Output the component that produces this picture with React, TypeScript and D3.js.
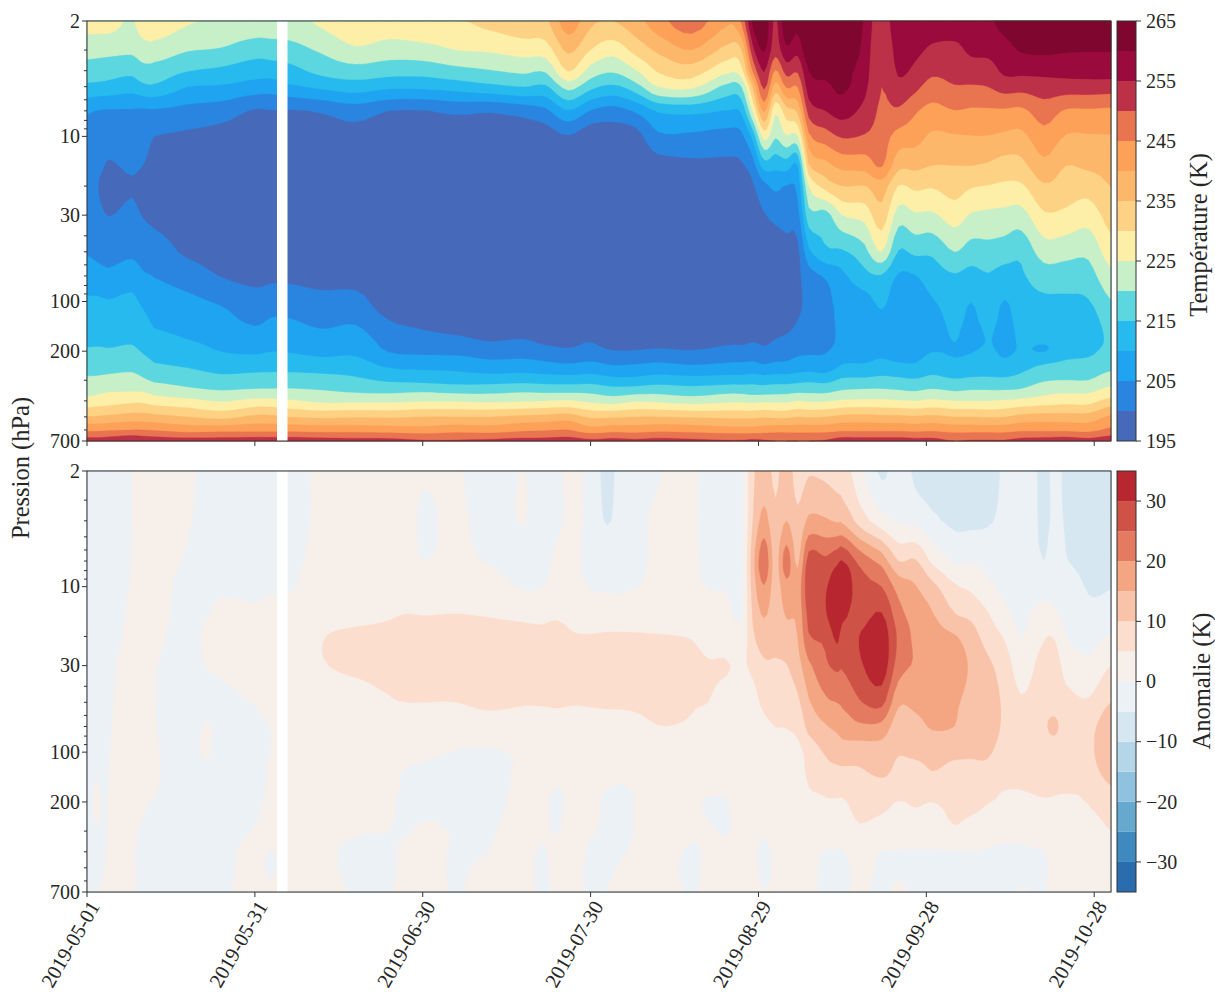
import React from "react";
import * as d3 from "d3";

const tempDays = [0,2,4,8,10,12,18,24,30,33,36,42,48,54,60,66,72,78,82,86,90,94,98,102,108,115,117,119,121,123,125,127,129,132,135,139,142,145,148,151,155,158,161,164,167,171,175,179,183];
const tempPressures = [2,3,4,5,7,10,15,20,30,50,70,100,130,170,200,250,300,350,400,500,600,700];
const tempProfiles = [
[227,222,217.7,213.7,205.6,202.5,201.5,201,201.5,204.5,207.6,210.6,212.4,214.2,215.5,218.2,220.8,223.6,226.8,235.2,243.9,252],
[227,221.7,217.5,213.4,204.8,202,200.7,200,200.8,203.7,206.7,210.7,212.3,214.2,215.6,218.2,221,224,227.5,235.5,244,252],
[227,221.5,217,213,204.5,201.5,199.7,199,199.9,203.3,206,210.3,212.1,214,215.5,218.4,221.5,224.7,228,236,244.5,252.5],
[224.5,221,216.4,211.9,204.5,202,200.6,199.7,201,204,207.4,211.2,212.9,214.4,215.9,218.9,221.7,224.8,229,237,245,254],
[228,222.7,218.3,213.6,204.2,201.5,200,199,199.8,203,205.6,209,211.3,213.3,214.6,217.6,220.7,224.6,229,237,245,253],
[228.5,223,218,214,204.3,200,199,198.5,199,202.1,204.8,207.3,209.1,211.4,213.2,215.8,219.2,223.3,227.7,236.4,244.5,252.5],
[225.5,220.3,215.2,210,203.3,199.2,198,198,198,199.2,202.7,206.1,208,210,212,214.8,218,221.4,226.5,235,243,252],
[224.5,219.5,214,209.4,202.2,198.5,198,198,198,198,199.8,204.3,206.6,208.6,209.9,213.2,216.6,220.3,224.6,233.5,243.4,252],
[223.4,217.2,212.3,207.7,199.6,198,197,197,197,197,198.6,201.8,204.1,207.2,209.3,213.3,217.3,220.9,226.5,236,243.5,252.5],
[223.4,217.5,212.5,207.3,199.8,198,197,197,197,197,199,202.6,205.4,207.7,209.9,213.6,217.3,221,226.5,236,243.5,252.5],
[223.4,218,213.4,209,199.6,198,197,197,197,197,199,202.5,205.3,208,209.7,213.5,217.3,221,225.7,235,243.5,252.5],
[226,220.8,216.5,211,200.5,198,197,197,197,197,198,201.6,203.6,206.7,208.6,212.9,217,220.3,224,234,243,252],
[229,224.2,218,212.3,202.5,198,197,197,197,197,197.8,201.8,204.3,207.2,209,212.5,215.9,219.4,224,234.6,243,251.5],
[228,222.7,217,211,200,197,197,197,197,197,197,197,200,202.9,204.7,209.7,214.3,219,224,234.3,242.5,251.5],
[229.5,223.2,217,211,199.8,197,197,197,197,197,197,197,198.5,201.7,204,209,213.6,219.5,224.5,235,242,250.5],
[229.5,225,218.5,212,201,197,197,197,197,197,197,197,196.5,201,203.8,208.7,212.8,218.7,224.5,235,243,250.5],
[231.5,225.6,219.7,213.5,200.5,197,197,197,197,197,197,197,197,199.5,202.7,207.3,212.8,218.7,224,235,242.5,251],
[233.5,227.2,221,215,202,197,197,197,197,197,197,197,197,200.1,203,207.6,213.3,219.4,224.5,236,244,251.5],
[234,227.7,220.7,214.2,204,197.5,197,197,197,197,197,197,197,198.5,202,206.8,212.8,219,225,236.5,244.5,251.5],
[243,236,230.3,221.7,209.7,199.6,197,197,197,197,197,197,197,198,201,206.3,212.5,219,225.5,237.2,245,252],
[236,230,223,216.3,204.7,197,197,197,197,197,197,197,197,199.5,202.1,206.9,212.9,218.8,224,234.2,242,251],
[235,227,220.7,214,203,197.5,197,197,197,197,197,197,197,196.5,200.3,205.7,211.5,217.5,223,234.3,243,251.5],
[238,231.7,224.6,217.7,205.6,198,197,197,197,197,197,197,197,197,200.3,206,211.5,218,224.4,235,242.7,251],
[243,236,230.5,225,210.5,204,198,197,197,197,197,197,197,197.5,201,206.7,212.5,218.5,224,235,243.5,251.5],
[248,240,232.7,226,211.4,204,199,197,197,197,197,197,197,197,200.3,205.8,212,217.5,223,234.5,243,251],
[240.5,233,225.8,218,209.7,203,199,197,197,197,197,197,197,198.5,202,206.4,212.5,218.7,224,234,242,250.5],
[246,235,228.7,220,211,204,199.5,197.5,197,197,197,197,197,198.5,202,206.5,212.5,218.5,224,234,242,250.5],
[261,253.5,245.5,235.6,225.3,211.7,203,199.5,198,198,197.5,197.5,197.7,199.5,202,206.9,213,218,223.7,234,242,251],
[264,260.5,255.3,251,240.7,226.7,212.5,203.5,199.7,198,197.5,197.5,197.7,199,201.3,206,212.5,218,224,234.5,242.5,250.5],
[254,252,244.6,237.7,226,220.5,211.5,206,201,198,197.5,197.5,198,200,202,206.7,213,218.3,224,234,243,250],
[264,259,252,245.5,233,224.5,212.5,204.8,201.8,198.5,198,198,198,200.8,203,206.6,213,218.5,224,234,243,250],
[262,256.6,250.7,245,236,224.5,210,206.5,203,199,199,199,200,202,204,207.5,213.5,219,225,235,243,250],
[268,264,260,257.5,252,243.7,234.5,225,218,209,203,201.5,201.5,202.6,204.3,208,214,219,224.5,234.5,243,250],
[270,263,261.5,258.8,255,247.5,238.5,231.8,218,214.2,205.6,203.5,203,203.5,204.7,207.5,213.5,219,224.5,235,243,250.5],
[270,266,262,261,257,250.5,241.5,235,225,214.4,209,207,206.5,206,207,210.8,215.8,220.5,225.6,236.2,244,252],
[259,258,257,256,253.5,249.5,242,234.8,226.7,218.5,213.4,208,206.8,206.5,207.5,211,216,221,226,236.5,244,252],
[252,250.5,250,250,249,247.5,245.5,237.5,233,225,214.5,211,209,208,208.7,212,216.5,221,226,236,244,252],
[259,257,255.6,253.6,249.2,243,236.6,229.8,222.5,214.7,209.5,207,206.5,206.5,207,211.5,216,220.5,225.5,236,244,252],
[259.5,256.3,254,251.3,245.6,242,236.3,231,224.3,216.2,209.8,207.5,207,207,207.8,211,215.5,220,225,235.5,243.5,251.5],
[258.5,254,251.2,247.8,243.4,239.1,235,230.4,224.1,216,212.6,209.5,207.5,206.5,209.8,213,216.5,221,226,236,244,251.5],
[258.5,253.5,251.7,249.6,244.8,239.5,235,232,227.3,220,214.5,212.5,211.5,210.3,209.5,211.5,215.5,220,225,235,243,250],
[258,256,252.5,249.5,244.3,239.8,235,230.4,224.5,217.8,213.3,210.1,208.8,207.3,209.7,212,216,220.5,225,235,243,250.5],
[259,256.4,252.8,250,244.3,239.8,234.4,229.8,223.8,218.3,214.6,212.9,211.6,210.3,211,212.7,216,220.5,225,234.5,243,250.5],
[262,258,256,252,244.3,239,233,229,223.4,217.5,213,209.8,208.8,208,209,211.7,216,220.5,225.5,235,243,250.5],
[265,260.5,256.3,251.7,243.9,238.7,233.6,229.3,223,216.3,214.4,212.9,211.8,211,210.6,213.5,217,221,226.5,236.5,244,251.5],
[264,261,256.5,252.6,247.5,243.2,238.7,234.3,229.2,222.4,217.6,214,212.5,210.8,209.8,216,219.5,223.5,227.5,237,244,252],
[265,260.5,256.7,252.6,244.4,239.6,235,232.5,228.7,221.8,217.5,214.1,212.5,211,213,216.7,220,224.2,228.3,237,244,252.5],
[265,260.3,257,252.6,244.3,239.6,236,232,227.2,221.3,218,214.7,212.6,211,213.7,217.2,220,224.2,228.3,237,243.5,251.5],
[265,260.3,257.3,252.3,244,239.7,236.5,235.1,232.2,227.7,223.7,219.8,217.5,216.5,217,219,222.7,227,232,240.8,246,253],
];

const anomDays = [0,1.5,3,6,12,18,21,24,30,33,36,42,48,54,57,60,66,72,78,81,84,87,90,93,96,102,108,111,114,117,119,121,123,125,127,129,132,134,135,138,142,145,148,151,155,158,161,164,167,171,173,175,179,183];
const anomPressures = [2,4,7,10,15,20,30,50,70,100,130,170,200,300,400,500,700];
const anomProfiles = [
[-2,-2,-2,-2,-2,-2,-2,-2,-2,-2,-2,-2,-2,-2,-2,-2,-2],
[-2,-2,-2,-2,-2,-2,-1.5,-1.5,-1.5,-1.5,-0.5,0.3,0.5,-0.2,-0.8,-0.6,-0.3],
[-1.5,-1.5,-1.5,-1.5,-1.5,-1.5,-1.2,-1,-1,-0.7,-0.4,-0.3,-0.2,-0.2,-0.2,-0.1,0.3],
[-0.8,-0.8,-0.6,-0.4,-0.2,-0.05,0.3,0.6,0.8,1,1,1,1,1,1,1,1],
[1.5,1.5,1.2,1,0.8,0.4,0.1,0.1,0.1,0.3,0.3,0.2,-0.2,-1,-1.5,-1.5,-1],
[1,0.3,-0.3,-1,-1,-1,-1,-1.5,-1.5,-1.5,-1.5,-1.5,-1.5,-1.5,-1.2,-1,-0.3],
[-1,-1,-1,-0.8,-0.2,0.3,0,-0.8,0.2,0.3,-0.5,-1,-1,-1,-0.6,-0.5,-0.2],
[-1,-1,-0.8,-0.3,0.5,0.5,0.3,-0.5,-0.6,-1,-1,-1,-1,-0.8,-0.6,-0.4,-0.2],
[-1,-1,-1,-0.5,0.4,1,1,0.1,-0.5,-0.8,-0.8,-0.7,-0.5,0.1,0.6,0.5,0.6],
[-1,-1,-0.7,-0.2,0.7,1.5,1.5,1,0.1,0.1,0.4,0.5,0.5,1,-0.1,-0.3,0.4],
[-1,-1,-0.8,-0.3,0.8,2,2.2,1.5,1.5,1.5,1.5,1.5,1.5,1.5,1.2,1.2,1.2],
[0.5,0.5,1,1.5,3,4.8,4.7,2.5,2,2,2,1.5,1,1,1,1,1],
[1,1,1,1.5,3.5,6,5.8,3,2.5,2,1.5,1,0.7,0.3,-1,-1,-0.2],
[1,1,1,1.5,4.5,6.2,6.5,4.6,3,2,1,1,0.5,0,-0.5,-0.4,-0.1],
[0.8,0.8,1,2,5.2,7,7,5,3,1.5,-0.2,-0.6,-0.8,-0.2,0.5,0.5,0.5],
[0.2,-0.3,0,2,5,7,7,5,3,0.8,-0.5,-0.7,-0.7,0.3,0.7,0.7,0.7],
[0.2,0.4,0.6,2,5.2,7,7,5,3,-0.2,-0.6,-0.5,-0.4,-0.1,-0.2,-0.2,-0.1],
[-1,-0.8,-0.2,1.5,4.8,6.5,7,5.8,3,-0.4,-0.8,-0.8,-0.7,-0.2,0,0.5,0.7],
[0.1,0.1,-0.8,-0.4,4.2,6,6.5,5.3,3,0.5,0.5,0.6,0.8,1,1,1,1],
[-1,-1,-1,-0.3,4.2,5.5,6.3,5.3,3,1.5,1.2,1,0.8,0.5,-0.2,-0.5,-0.3],
[-0.2,-0.3,0.4,1.5,4.6,5.7,6.2,5.5,3,1.5,1.2,-0.2,-0.5,-0.1,0.6,0.6,0.4],
[0.2,0.3,0.5,1.5,4,5.2,6,5.3,2.5,1,1,1,1,1,1,0.8,0.8],
[-1,-0.8,-0.8,-0.3,3,5.2,6,5.5,2.5,1.5,1,0.8,0.5,0.2,-0.4,-0.6,-0.5],
[-7,-5.5,-1.2,-0.5,2.5,5.5,6.2,5.7,2.8,1.5,1.2,-0.1,-0.3,-0.3,-0.7,-0.5,0.1],
[-1,-1,-1,-0.5,2.5,5.5,6,5.7,3,1.5,1,-0.3,-0.5,-0.5,-0.1,0.5,1],
[-0.1,0.2,0.4,0.8,2.2,5.3,6,5.8,4.9,2,1.5,1.5,1.5,1.5,1.5,1,1],
[0.5,0.6,0.8,1.2,2.5,4.8,6.2,5.3,4.5,2,1.5,1,0.5,0.5,-0.4,-0.5,-0.2],
[-1,-1,-1,-0.2,2,3.5,5.3,5,3,2,1.5,0.5,-0.2,0.2,0.5,0.5,0.5],
[-1,-1,-0.8,-0.2,1.5,3,5.3,3.5,2.5,2,1.5,0.5,-0.2,-0.1,0.5,0.5,0.5],
[-0.7,-0.8,-0.8,-0.5,-0.1,1.5,4.5,2.5,2,1.5,1.5,1.5,1,0.5,0.8,0.8,0.8],
[9,10,13,12,10.5,9,6,3.5,2.8,2.5,2.5,2,2,1.5,0.3,1,1],
[12,16.7,23.5,19.7,15.3,13,9,6,4,3,3,2.5,2,0.3,-0.5,-1,0.1],
[9,11,13,12.5,12,11,9.5,7,5,3,2.5,2,1.5,1,0.5,0.5,0.5],
[12,15,22.5,18.5,15.3,13,9.8,7,5.2,3,3,2.5,2,1.5,1,1,1],
[8,11,14,17,16,15,13,9,6.5,3.5,3,2.5,2.5,2,1.5,1,1],
[9.5,16,27,28.5,26.5,24.5,19,14.5,11.5,7,6,4.8,4,2.5,1.5,1,0.5],
[9,15.5,26,29.5,29.5,26,24,19,14.5,10.5,8.5,5.5,4.7,3,-0.2,-0.8,-0.5],
[8,14.5,28.5,33,33,31,26,20,16,12,9,6,4.5,2.3,-0.2,-0.7,-0.5],
[7,14,30,34,31,28,25.5,21,17,13,9,6,4.5,2,-0.2,-0.5,-0.5],
[2,8,23.5,27,28,30,29,24.5,19,12,9.5,6.5,6.5,4.3,1.5,0.5,0.5],
[-6,2,18,25,30.5,33,33,26.5,18.5,12.5,11,8,6.3,3,-0.1,-0.2,-0.5],
[-2,-0.5,10,18,22,24,22.5,16,12,10.3,9,7.5,4.8,2.5,-0.1,-0.3,0.3],
[-6,-1.5,10.5,15.3,18,19,19.5,16.5,13,11,8.5,7,5.5,2.5,-0.3,-0.5,-0.3],
[-7,-4,4,11.5,15.5,17,18,17.5,15.5,11.5,10,8,5,2.5,-0.2,-0.5,-0.6],
[-6.5,-6,-0.5,5.8,10.5,15.5,19,16,15,11,9,7.5,6,4.5,-0.2,-0.6,-0.6],
[-6,-6,-0.3,4,9,12,14,13,11.5,10.5,9,7.5,6.5,3,-0.1,-0.5,-0.3],
[-6,-5.5,-1.5,1,5.5,8,11,12.5,12.5,10.5,9,6.5,5.2,1.5,-0.2,-0.5,-0.5],
[-4.5,-3.8,-2,-1,1.2,4.5,7.5,9,9,8,7.5,5,4,1,-0.4,-0.5,-0.3],
[-2,-1.5,-1.5,-1.2,-0.6,-0.1,2.5,5.5,6.5,6.5,6.2,5,4,1,-0.3,-0.5,0.1],
[-6,-6,-5,-1.5,1.5,4.5,7,8,9.3,7.5,6.5,5.5,4.5,2,-0.1,-0.5,-0.2],
[-4,-4,-2,-1,0.5,4.5,7,8,10.8,7.5,6.5,5.5,4.3,2.5,1,1,1],
[-6,-5.5,-4.8,-2,-1,-0.1,3,6.5,7.5,7,6.5,5.5,3.5,1.5,1,1,1],
[-7,-7,-6.5,-5.5,-3.5,-1.5,1,5.5,8.5,9,8,5.8,5.3,1.5,1,1,1],
[-6,-6.5,-6,-5.2,-3,0.3,5,10,13,13,12,9.5,8.5,5,2.5,2,2],
];

const tempLevels = d3.range(195, 266, 5);
const tempColors = ["#4769b9","#2a85e0","#1ea4f0","#26baee","#5cd7df","#c8f0c8","#fdefa8","#fdd285","#fdb76a","#fda058","#e97450","#bd3148","#9a0a3c","#7f062f"];
const anomLevels = d3.range(-35, 36, 5);
const anomColors = ["#2a6dae","#3e89bd","#66a9cf","#8fc2de","#b5d6e8","#d6e7f1","#ecf1f5","#f7efe9","#fcdecf","#f8c3a8","#f4a582","#e47a5f","#cf5246","#b8262f"];

const tempTicks = [195,205,215,225,235,245,255,265];
const anomTicks = [-30,-20,-10,0,10,20,30];
const pressureTicks = [2,10,30,100,200,700];
const pressureMinor = [3,4,5,6,7,8,9,20,40,50,60,70,80,90,300,400,500,600];
const dateLabels = ["2019-05-01","2019-05-31","2019-06-30","2019-07-30","2019-08-29","2019-09-28","2019-10-28"];
const dateTickDays = [0,30,60,90,120,150,180];

const font = "'Liberation Serif','Times New Roman',serif";
const L = 87, R = 1111, CL = 1117, CR = 1136;
const panels = [
  { top: 21, bottom: 441, days: tempDays, pressures: tempPressures, profiles: tempProfiles, levels: tempLevels, colors: tempColors, ticks: tempTicks, label: "Température (K)", labelX: 1207, labelY: 235 },
  { top: 471, bottom: 892, days: anomDays, pressures: anomPressures, profiles: anomProfiles, levels: anomLevels, colors: anomColors, ticks: anomTicks, label: "Anomalie (K)", labelX: 1210, labelY: 681 },
];
const x = d3.scaleLinear().domain([0, 183]).range([L, R]);
const spine = "#333";
const SMOOTH = 4;

function cr(a: number, b: number, c: number, d: number, t: number) {
  return 0.5 * (2 * b + (c - a) * t + (2 * a - 5 * b + 4 * c - d) * t * t + (3 * b - a - 3 * c + d) * t * t * t);
}
function resample(v: number[], f: number) {
  const out: number[] = [];
  const at = (i: number) => v[Math.max(0, Math.min(v.length - 1, i))];
  for (let i = 0; i < v.length - 1; i++) {
    for (let k = 0; k < f; k++) out.push(cr(at(i - 1), at(i), at(i + 1), at(i + 2), k / f));
  }
  out.push(v[v.length - 1]);
  return out;
}

function Field({ p }: { p: (typeof panels)[number] }) {
  const byCol = p.profiles.map(col => resample(col, SMOOTH));
  const M = byCol[0].length;
  const rowsFine = d3.range(M).map(j => resample(byCol.map(col => col[j]), SMOOTH));
  const N = rowsFine[0].length;
  const flat: number[] = [];
  for (let j = 0; j < M; j++) for (let i = 0; i < N; i++) flat.push(rowsFine[j][i]);
  const y = d3.scaleLog().domain([2, 700]).range([p.top, p.bottom]);
  const dayOf = d3.scaleLinear().domain(d3.range(p.days.length)).range(p.days).clamp(true);
  const presOf = d3.scaleLinear().domain(d3.range(p.pressures.length)).range(p.pressures.map(v => Math.log10(v))).clamp(true);
  const proj = d3.geoTransform({
    point(this: any, cx: number, cy: number) {
      this.stream.point(x(dayOf((cx - 0.5) / SMOOTH)), y(Math.pow(10, presOf((cy - 0.5) / SMOOTH))));
    },
  });
  const path = d3.geoPath(proj);
  const inner = p.levels.slice(1, -1);
  const polys = d3.contours().size([N, M]).thresholds(inner)(flat);
  return (
    <g>
      <rect x={L} y={p.top} width={R - L} height={p.bottom - p.top} fill={p.colors[0]} />
      {polys.map((c, i) => (
        <path key={i} d={path(c as any) || ""} fill={p.colors[i + 1]} stroke={p.colors[i + 1]} strokeWidth={0.3} />
      ))}
      <rect x={277} y={p.top} width={10.5} height={p.bottom - p.top} fill="#fff" />
    </g>
  );
}

function Panel({ p, showDates }: { p: (typeof panels)[number]; showDates: boolean }) {
  const y = d3.scaleLog().domain([2, 700]).range([p.top, p.bottom]);
  const c = d3.scaleLinear().domain([p.levels[0], p.levels[p.levels.length - 1]]).range([p.bottom, p.top]);
  return (
    <g fontFamily={font} fill="#262626">
      <Field p={p} />
      <rect x={L} y={p.top} width={R - L} height={p.bottom - p.top} fill="none" stroke={spine} strokeWidth={1} />
      {pressureTicks.map(t => (
        <g key={t}>
          <line x1={L - 5} x2={L} y1={y(t)} y2={y(t)} stroke={spine} />
          <text x={L - 7} y={y(t)} dy="0.34em" textAnchor="end" fontSize={20}>{t}</text>
        </g>
      ))}
      {pressureMinor.map(t => <line key={t} x1={L - 3} x2={L} y1={y(t)} y2={y(t)} stroke={spine} />)}
      {dateTickDays.map((d, i) => (
        <g key={d}>
          <line x1={x(d)} x2={x(d)} y1={p.bottom} y2={p.bottom + 5} stroke={spine} />
          {showDates && (
            <text transform={`translate(${x(d) + 1},${p.bottom + 7}) rotate(-60)`} textAnchor="end" dy="0.7em" fontSize={20.5}>{dateLabels[i]}</text>
          )}
        </g>
      ))}
      {p.colors.map((col, i) => (
        <rect key={i} x={CL} width={CR - CL} y={c(p.levels[i + 1])} height={c(p.levels[i]) - c(p.levels[i + 1])} fill={col} />
      ))}
      <rect x={CL} y={p.top} width={CR - CL} height={p.bottom - p.top} fill="none" stroke={spine} />
      {p.ticks.map(t => (
        <g key={t}>
          <line x1={CR} x2={CR + 5} y1={c(t)} y2={c(t)} stroke={spine} />
          <text x={CR + 10} y={c(t)} dy="0.34em" fontSize={20}>{String(t).replace("-", "\u2212")}</text>
        </g>
      ))}
      <text transform={`translate(${p.labelX},${p.labelY}) rotate(-90)`} textAnchor="middle" fontSize={24.5}>{p.label}</text>
    </g>
  );
}

export default function App() {
  return (
    <svg width={1215} height={995} style={{ position: "absolute", left: 0, top: 0, background: "#fff" }}>
      <Panel p={panels[0]} showDates={false} />
      <Panel p={panels[1]} showDates={true} />
      <text transform="translate(29,468) rotate(-90)" textAnchor="middle" fontSize={24.5} fontFamily={font} fill="#262626">Pression (hPa)</text>
    </svg>
  );
}
